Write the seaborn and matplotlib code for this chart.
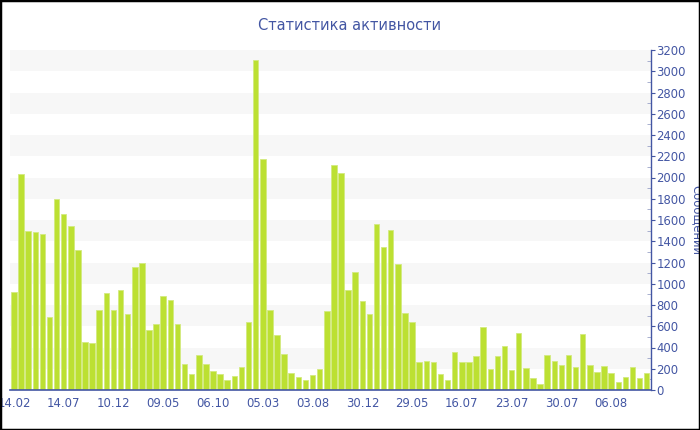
import matplotlib
matplotlib.use("Agg")
import matplotlib.pyplot as plt
from matplotlib.patches import Rectangle
from matplotlib.ticker import MultipleLocator
import seaborn as sns
import pandas as pd

# message counts per period
values = [925, 2030, 1500, 1490, 1465, 687, 1800, 1655, 1540, 1315,
          455, 440, 753, 910, 753, 940, 718, 1160, 1192, 562,
          624, 882, 844, 618, 248, 148, 329, 245, 179, 152,
          94, 132, 218, 637, 3110, 2177, 750, 518, 336, 160,
          126, 94, 144, 198, 744, 2121, 2039, 941, 1111, 838,
          712, 1559, 1346, 1506, 1183, 725, 637, 264, 273, 260,
          150, 91, 360, 267, 260, 323, 590, 201, 317, 414,
          188, 533, 204, 116, 56, 326, 273, 235, 329, 216,
          524, 238, 166, 223, 157, 78, 122, 220, 116, 160]
tick_labels = ["14.02", "14.07", "10.12", "09.05", "06.10", "05.03", "03.08",
               "30.12", "29.05", "16.07", "23.07", "30.07", "06.08"]
title = "Статистика активности"
ylabel = "Сообщений"

BLUE = "#4356a3"
BAR = "#bce032"

df = pd.DataFrame({"idx": range(len(values)), "val": values})

sns.set_style("white")
plt.rcParams["font.family"] = ["DejaVu Sans"]

fig = plt.figure(figsize=(7, 4.3), dpi=100)
ax = fig.add_axes([10 / 700, 40 / 430, 641 / 700, 340 / 430])

# alternating background bands
for lo in range(200, 3200, 400):
    ax.axhspan(lo, lo + 200, color="#f7f7f7", zorder=0, lw=0)

sns.barplot(data=df, x="idx", y="val", color=BAR, saturation=1, width=0.77,
            edgecolor="#d3ea80", linewidth=0.6, ax=ax, zorder=2)

ax.set_xlim(-0.55, len(values) - 0.4)
ax.set_ylim(0, 3200)
ax.set_xticks(range(0, len(values), 7))
ax.set_xticklabels(tick_labels)
ax.set_xlabel("")
ax.set_ylabel("")

ax.yaxis.tick_right()
ax.yaxis.set_major_locator(MultipleLocator(200))
ax.yaxis.set_minor_locator(MultipleLocator(100))
ax.tick_params(axis="y", which="major", direction="out", length=3, width=0.8,
               color=BLUE, labelcolor=BLUE, labelsize=8.4, pad=1)
ax.tick_params(axis="y", which="minor", direction="in", length=3, width=0.6,
               color="#9aa3c8")
ax.tick_params(axis="x", direction="out", length=3, width=0.8, color="#a0a0a0",
               labelcolor=BLUE, labelsize=8.4, pad=2)

for s in ["top", "left"]:
    ax.spines[s].set_visible(False)
ax.spines["bottom"].set_color(BLUE)
ax.spines["bottom"].set_linewidth(1.2)
ax.spines["right"].set_color(BLUE)
ax.spines["right"].set_linewidth(1.0)
ax.spines["bottom"].set_zorder(3)

fig.text(0.5, 1 - 25 / 430, title, ha="center", va="center", color=BLUE, fontsize=10.5)
fig.text(697 / 700, 1 - 220 / 430, ylabel, ha="center", va="center", rotation=270,
         color=BLUE, fontsize=8.4)

fig.patches.append(Rectangle((0, 0), 1, 1, transform=fig.transFigure, fill=False,
                             edgecolor="black", linewidth=2.5, zorder=10))

fig.savefig("out.png", dpi=100, facecolor="white")
